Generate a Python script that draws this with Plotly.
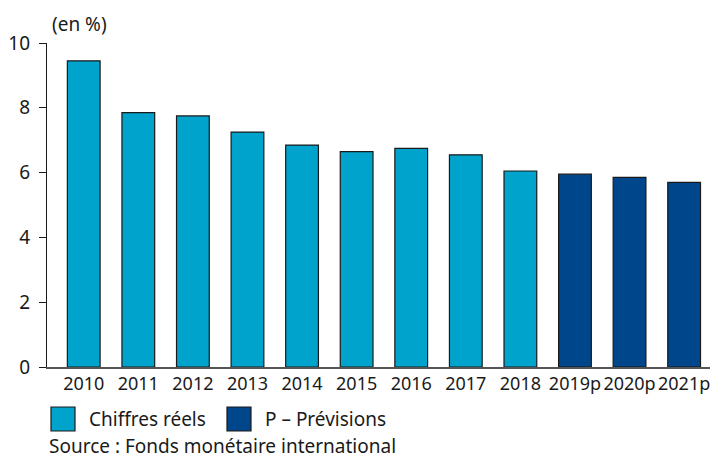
import plotly.graph_objects as go

years = ["2010", "2011", "2012", "2013", "2014", "2015", "2016", "2017", "2018", "2019p", "2020p", "2021p"]
values = [9.45, 7.85, 7.75, 7.25, 6.85, 6.65, 6.75, 6.55, 6.05, 5.95, 5.85, 5.7]
is_forecast = [False] * 9 + [True] * 3

legend_labels = ["Chiffres réels", "P – Prévisions"]
y_ticks = [0, 2, 4, 6, 8, 10]

C_REAL = "#00A3CC"
C_PREV = "#00468B"
FONT = "Noto Sans"
FS = 19
TICK_FS = 18
TXT = "#1a1a1a"

# The page body has an 8px default margin: size the figure so the page never scrolls
OFF = 8
W, H = 719 - 2 * OFF, 467 - 2 * OFF
L, R, T, B = 39, 1, 35, 92
pw, ph = W - L - R, H - T - B


def px_x(px):
    """page x (reference pixels) -> paper x"""
    return (px - OFF - L) / pw


def px_y(py):
    """page y (reference pixels) -> paper y"""
    return (H - B - (py - OFF)) / ph


colors = [C_PREV if f else C_REAL for f in is_forecast]

fig = go.Figure()
fig.add_trace(go.Bar(
    x=years, y=values,
    marker=dict(color=colors, line=dict(color="#1a1a1a", width=1.2)),
    width=0.60, showlegend=False, hoverinfo="x+y",
))

shapes = []
annotations = []
for i, (lab, col) in enumerate(zip(legend_labels, [C_REAL, C_PREV])):
    x0 = [51, 227][i]
    shapes.append(dict(type="rect", xref="paper", yref="paper",
                       x0=px_x(x0), x1=px_x(x0 + 24), y0=px_y(407), y1=px_y(431),
                       fillcolor=col, line=dict(color="#1a1a1a", width=1.2)))
    annotations.append(dict(text=lab, xref="paper", yref="paper",
                            x=px_x(x0 + 36), y=px_y(419), xanchor="left", yanchor="middle",
                            showarrow=False, font=dict(size=FS, color=TXT, family=FONT)))

annotations.append(dict(text="(en %)", xref="paper", yref="paper",
                        x=px_x(50), y=px_y(24), xanchor="left", yanchor="middle",
                        showarrow=False, font=dict(size=FS, color=TXT, family=FONT)))
annotations.append(dict(text="Source : Fonds monétaire international", xref="paper", yref="paper",
                        x=px_x(47), y=px_y(446), xanchor="left", yanchor="middle",
                        showarrow=False, font=dict(size=FS, color=TXT, family=FONT)))

fig.update_layout(
    width=W, height=H,
    margin=dict(l=L, r=R, t=T, b=B, pad=0),
    paper_bgcolor="white", plot_bgcolor="white",
    font=dict(family=FONT, size=FS, color=TXT),
    shapes=shapes, annotations=annotations,
    xaxis=dict(type="category", range=[-0.673, 11.474], showline=True, linecolor="#555",
               linewidth=1.5, ticks="", showgrid=False, tickangle=0,
               tickfont=dict(size=TICK_FS, color=TXT), fixedrange=True),
    yaxis=dict(range=[0, 10], tickvals=y_ticks, showline=True, linecolor="#1a1a1a", linewidth=1.2,
               ticks="outside", ticklen=7, tickcolor="#1a1a1a", showgrid=False, zeroline=False,
               tickfont=dict(size=FS, color=TXT), ticklabelstandoff=5, fixedrange=True),
)

fig.write_html("out.html")
